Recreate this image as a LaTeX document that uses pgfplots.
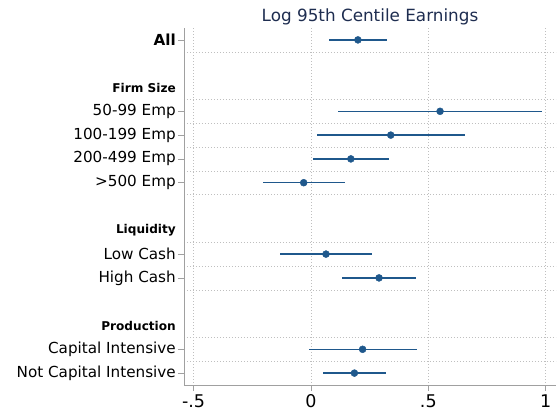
\documentclass[border=0pt]{standalone}
\usepackage{fontspec}
\setmainfont{DejaVu Sans}
\usepackage{pgfplots}
\pgfplotsset{compat=1.18}
\usepackage{pgfplotstable}

\definecolor{est}{RGB}{31,88,140}
\definecolor{ttl}{RGB}{30,45,80}
\definecolor{spine}{RGB}{160,160,160}

% row estimate  +err  -err
\pgfplotstableread{
row est    ep     em
0   0.200  0.124  0.123
3   0.550  0.436  0.435
4   0.340  0.316  0.314
5   0.170  0.164  0.161
6   -0.031 0.174  0.174
9   0.064  0.196  0.195
10  0.290  0.159  0.158
13  0.220  0.230  0.227
14  0.185  0.133  0.132
}\coefs

\newcommand{\lab}{\fontsize{15.2}{18}\selectfont}
\newcommand{\hdr}[1]{\fontsize{12.1}{14}\selectfont\bfseries #1}

\begin{document}
\begin{tikzpicture}
\begin{axis}[
    scale only axis,
    width=372pt, height=357pt,
    xmin=-0.541, xmax=1.044,
    ymin=-0.5, ymax=14.5,
    y dir=reverse,
    axis x line*=bottom,
    axis y line*=left,
    axis line style={spine, line width=0.8pt},
    tick align=outside,
    major tick length=6pt,
    tick style={spine, line width=0.8pt},
    xtick={-0.5,0,0.5,1},
    xticklabels={-.5,0,.5,1},
    xticklabel style={font=\fontsize{17.5}{20}\selectfont},
    ytick={0,3,4,5,6,9,10,13,14},
    yticklabels={{\bfseries All},50-99 Emp,100-199 Emp,200-499 Emp,>500 Emp,Low Cash,High Cash,Capital Intensive,Not Capital Intensive},
    yticklabel style={font=\lab, inner xsep=2pt},
    extra y ticks={2,8,12},
    extra y tick labels={\hdr{Firm Size},\hdr{Liquidity},\hdr{Production}},
    extra y tick style={major tick style={draw=none}},
    xmajorgrids,
    major x grid style={gray!50, line width=0.6pt, dash pattern=on 0.7pt off 2.3pt},
    minor ytick={0.5,2.5,3.5,4.5,5.5,6.5,8.5,9.5,10.5,12.5,13.5},
    yminorgrids,
    minor tick length=0pt,
    minor y grid style={gray!50, line width=0.6pt, dash pattern=on 0.7pt off 2.3pt},
    title={Log 95th Centile Earnings},
    title style={at={(0.5,1)}, anchor=base, yshift=1pt, text=ttl, font=\fontsize{16.8}{20}\selectfont},
    clip=false,
]
\addplot[only marks, mark=*, mark size=3.5pt, color=est,
    error bars/.cd, x dir=both, x explicit, error mark=none,
    error bar style={line width=1.5pt, color=est}]
    table[x=est, y=row, x error plus=ep, x error minus=em] {\coefs};
\end{axis}
\path (-184pt,-28pt) rectangle (373pt,385pt);
\end{tikzpicture}
\end{document}
